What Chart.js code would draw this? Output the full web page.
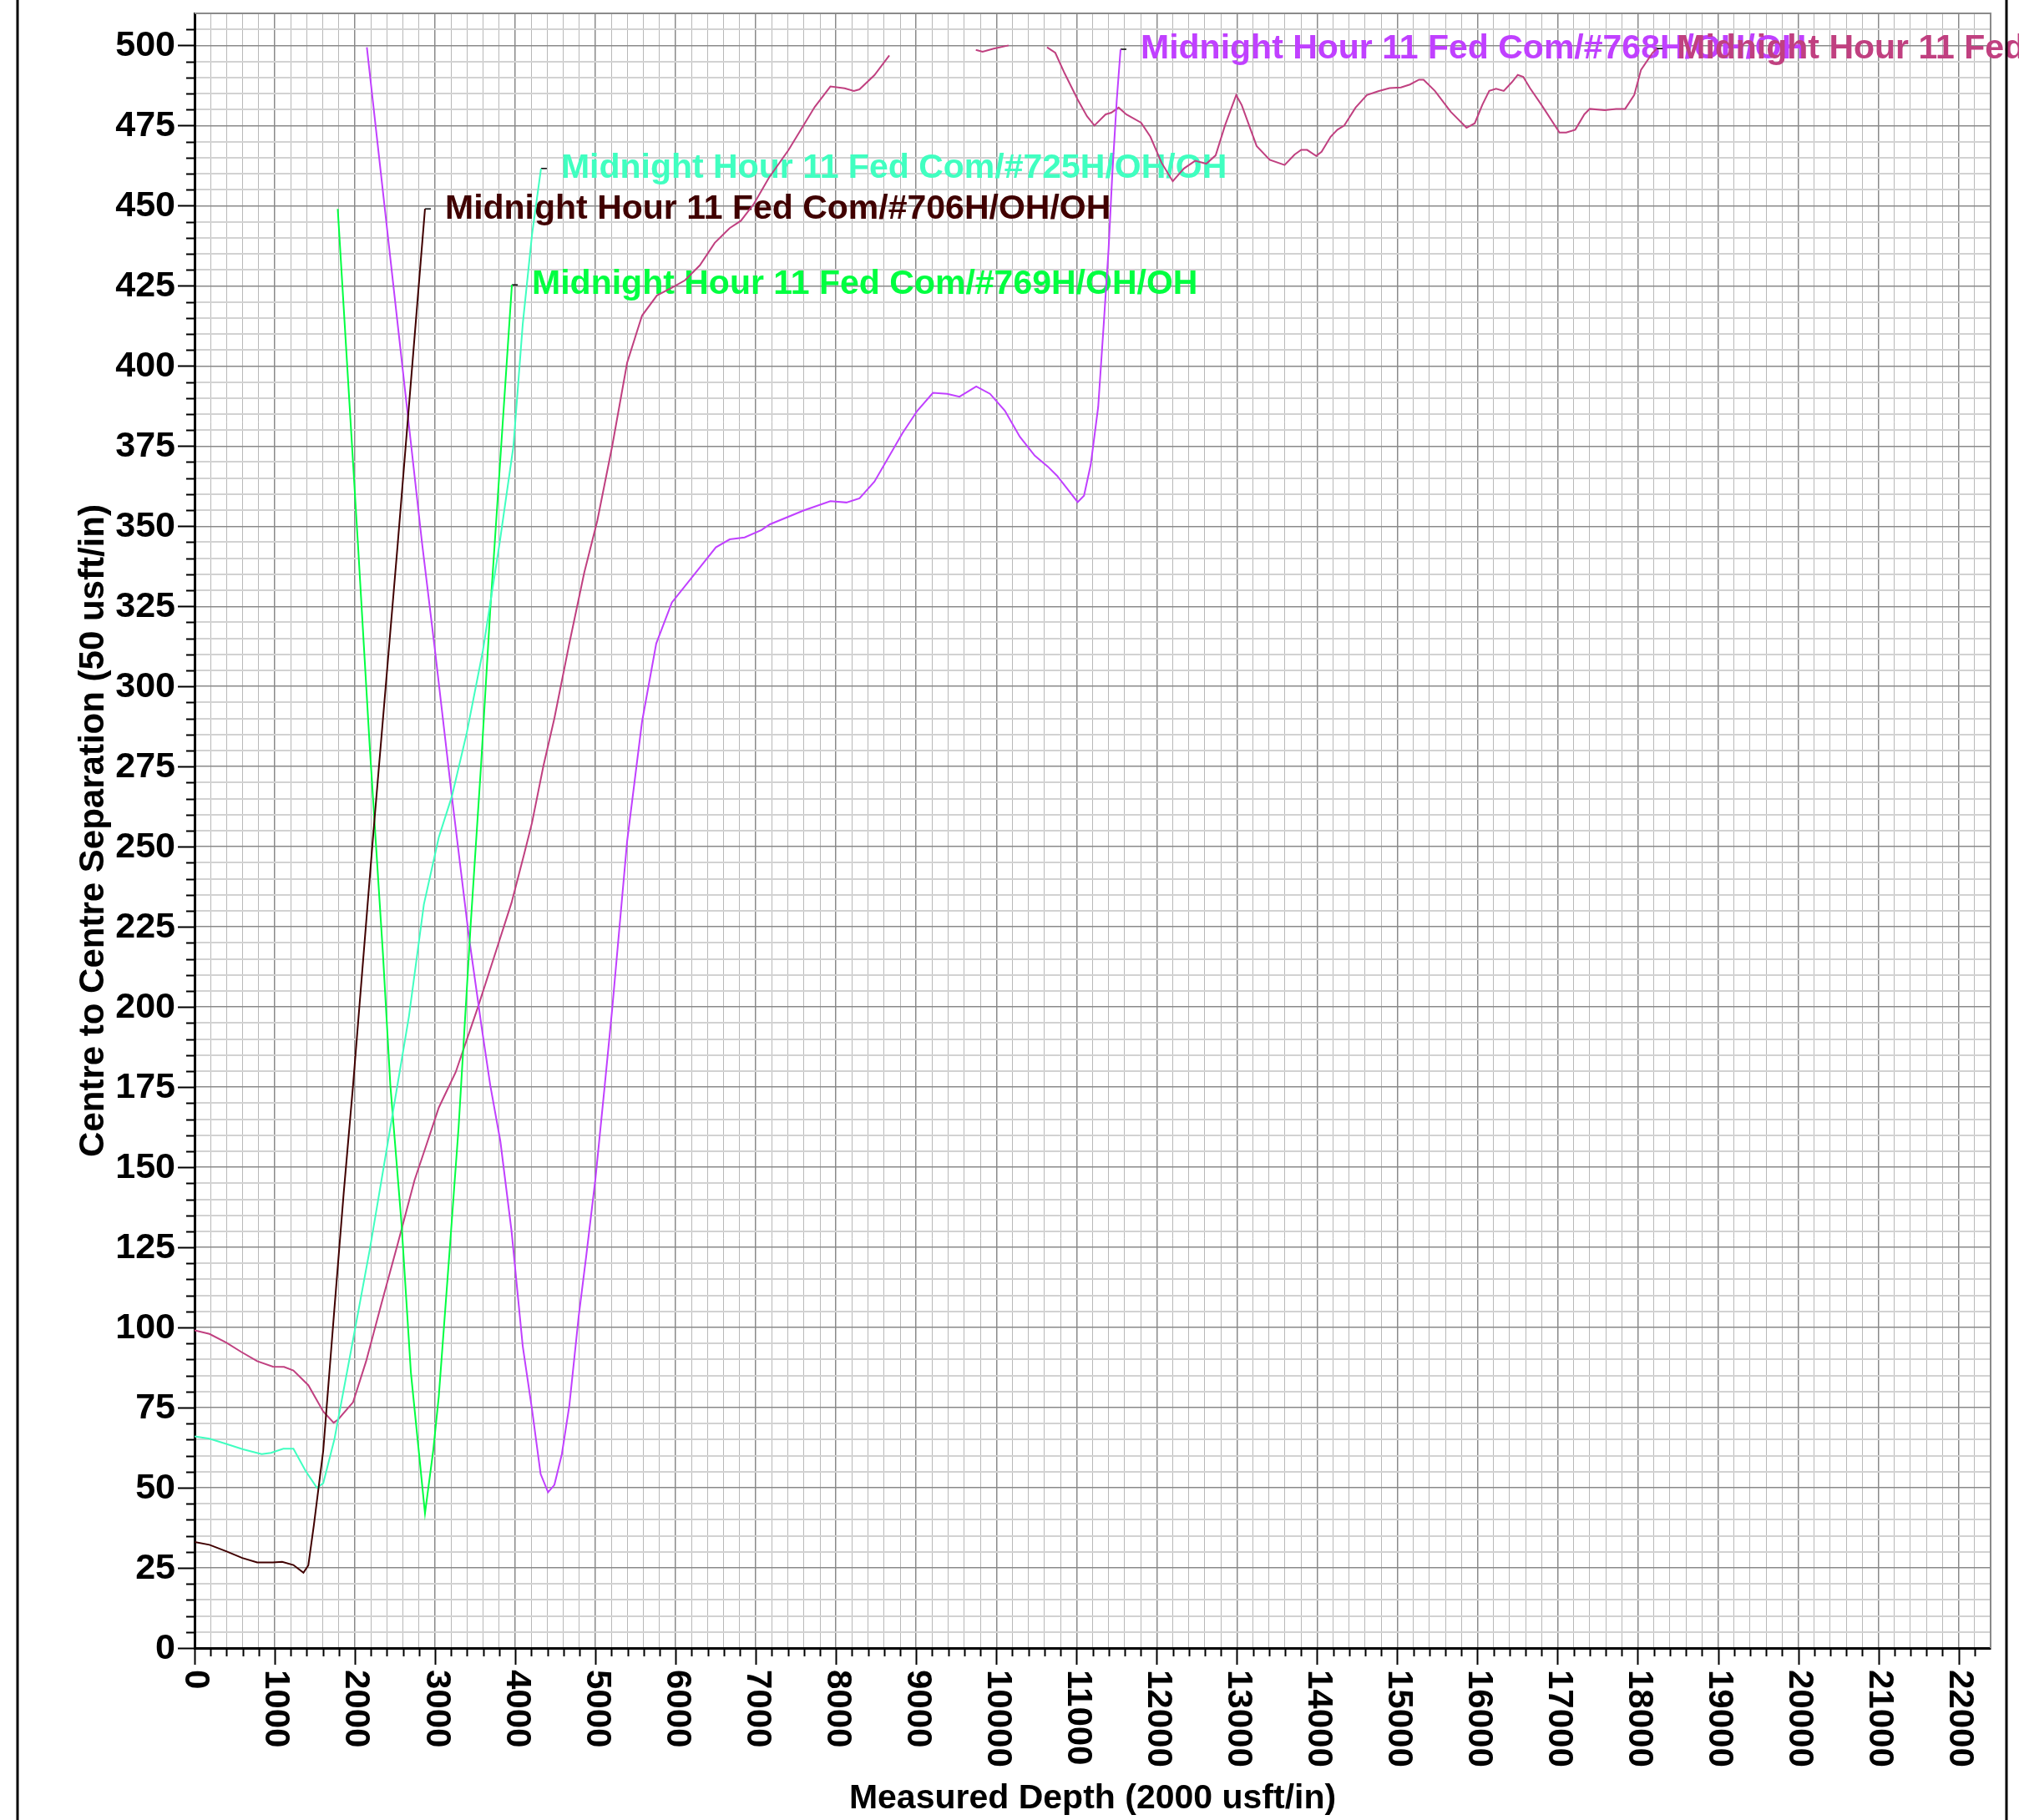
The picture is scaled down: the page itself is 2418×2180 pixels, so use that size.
<!DOCTYPE html>
<html>
<head>
<meta charset="utf-8">
<script src="https://cdn.jsdelivr.net/npm/chart.js@4/dist/chart.umd.min.js"></script>
<style>
  html, body { margin: 0; padding: 0; background: #fff; }
  canvas { display: block; }
</style>
</head>
<body>
<canvas id="sepChart" width="2418" height="2180"></canvas>
<script>
// Series names (label texts)
const seriesNames = [
    'Midnight Hour 11 Fed Com/#706H/OH/OH',
    'Midnight Hour 11 Fed Com/#725H/OH/OH',
    'Midnight Hour 11 Fed Com/#769H/OH/OH',
    'Midnight Hour 11 Fed Com/#768H/OH/OH',
    'Midnight Hour 11 Fed Com'
];
const seriesColors = ['#400000', '#40FFC0', '#00FF40', '#C040FF', '#C04080'];

// Measured depth (usft) / centre to centre separation (usft)
const md706 = [0, 186, 395, 595, 781, 977, 1093, 1233, 1358, 1419, 1488, 1605, 1744, 1860, 1977, 2233, 2535, 2874];
const sep706 = [33.1, 32.2, 30.2, 28.1, 26.7, 26.7, 26.9, 25.9, 23.5, 25.8, 38.3, 61.6, 105.8, 141.9, 175.6, 255.2, 344.8, 449];

const md725 = [0, 186, 395, 605, 837, 953, 1107, 1233, 1386, 1526, 1605, 1744, 1953, 2186, 2442, 2674, 2860, 3046, 3209, 3395, 3595, 3805, 3977, 4093, 4209, 4321];
const sep725 = [66, 65.3, 63.7, 62, 60.5, 60.9, 62.2, 62.2, 55.2, 50, 51.4, 65.1, 93, 124.4, 162.4, 197.1, 232, 252.9, 265.7, 285.5, 311, 344.8, 375, 413, 441, 461.6];

const md769 = [1786, 2037, 2186, 2349, 2442, 2581, 2698, 2791, 2874, 2977, 3046, 3186, 3293, 3442, 3572, 3688, 3744, 3958];
const sep769 = [449, 344.8, 280.8, 216.8, 175.6, 132.5, 86, 62.8, 42, 61.7, 78.5, 125.6, 162.4, 225, 275, 324, 344.8, 425.3];

const md768 = [2149, 2837, 3000, 3209, 3418, 3581, 3688, 3814, 3953, 4093, 4209, 4316, 4409, 4488, 4581, 4674, 4791, 4884, 5000, 5116,
    5209, 5395, 5581, 5758, 5953, 6232, 6502, 6674, 6860, 7070, 7177, 7595, 7930, 8130, 8293, 8479, 8828, 9014, 9209, 9386,
    9540, 9749, 9921, 10107, 10293, 10479, 10642, 10758, 11014, 11093, 11177, 11270, 11340, 11400, 11446, 11502, 11549];
const sep768 = [499.4, 344.8, 311, 265.7, 222.7, 193.6, 175.6, 158.1, 130.2, 94.2, 74.4, 54.3, 48.6, 50.9, 60.5, 75.6, 103.5, 122.1, 146.5, 175.6,
    199.4, 251.7, 289, 313.4, 326.2, 334.9, 343.4, 345.9, 346.5, 348.8, 350.6, 354.9, 357.8, 357.4, 358.7, 363.9, 379, 386, 391.6, 391.3,
    390.4, 393.6, 391.3, 386, 377.9, 372, 368.6, 365.7, 357.5, 359.5, 369.2, 387.2, 413.4, 436.6, 459.9, 483.1, 498.8];

// null = off the top of the scale (line not drawn)
const mdLast = [0, 186, 395, 581, 781, 977, 1116, 1233, 1419, 1605, 1735, 1791, 1977, 2140, 2326, 2535, 2744, 2884, 3046, 3256,
    3535, 3767, 3953, 4116, 4209, 4349, 4488, 4674, 4860, 5023, 5209, 5395, 5581, 5767, 5953, 6116, 6302, 6488, 6674, 6814,
    6977, 7163, 7409, 7735, 7930, 8107, 8223, 8293, 8479, 8665, 9200, 9744, 9828, 9967, 10153, 10400, 10632, 10735, 10851, 11014,
    11130, 11223, 11363, 11432, 11525, 11619, 11805, 11921, 12060, 12200, 12339, 12479, 12618, 12735, 12851, 12991, 13060, 13246, 13409, 13595,
    13718, 13802, 13876, 13989, 14056, 14169, 14254, 14339, 14480, 14621, 14763, 14904, 15045, 15158, 15271, 15328, 15469, 15667, 15864, 15966,
    16062, 16147, 16232, 16328, 16429, 16503, 16571, 16655, 16797, 17023, 17107, 17220, 17333, 17401, 17588, 17729, 17842, 17955, 18040, 18181, 18237];
const sepLast = [99.1, 98, 95.3, 92.4, 89.5, 87.8, 87.7, 86.6, 82, 73.8, 70.3, 71.3, 76.7, 89.5, 107, 126.2, 146, 156.4, 168.6, 179.6,
    200, 218, 232.5, 248.2, 257.5, 275, 290.1, 313.4, 335.5, 351.7, 375, 401, 415.7, 422, 424.4, 426.7, 431.4, 438.4, 443, 445.3,
    450.6, 458.7, 467.4, 480.8, 487.2, 486.6, 485.8, 486.3, 490.7, 496.9, null, 498.6, 498, 499, 500, null, 499.4, 497.7, 491.3, 483.1,
    477.9, 475, 478.5, 479, 480.6, 478.5, 475.9, 471.5, 463.4, 457.6, 461.6, 464, 463.1, 465.7, 475, 484.5, 481.4, 468.6, 464.3, 462.7,
    465.9, 467.4, 467.4, 465.5, 466.8, 471.5, 473.7, 475, 480.6, 484.5, 485.7, 486.7, 486.9, 487.8, 489.3, 489.3, 485.8, 479.3, 474.3, 475.7,
    481.5, 485.8, 486.5, 485.8, 488.5, 490.8, 490.2, 486.7, 481.5, 472.8, 472.8, 473.7, 478.5, 480.2, 479.8, 480.2, 480.2, 484.5, 492.4, 497.6, 499];

// Axis tick labels
const xTickLabels = ['0', '1000', '2000', '3000', '4000', '5000', '6000', '7000', '8000', '9000', '10000', '11000',
    '12000', '13000', '14000', '15000', '16000', '17000', '18000', '19000', '20000', '21000', '22000'];
const yTickLabels = ['0', '25', '50', '75', '100', '125', '150', '175', '200', '225', '250', '275', '300', '325',
    '350', '375', '400', '425', '450', '475', '500'];
const xTitle = 'Measured Depth (2000 usft/in)';
const yTitle = 'Centre to Centre Separation (50 usft/in)';

const FONT = '"Liberation Sans", Arial, sans-serif';

const seriesMd = [md706, md725, md769, md768, mdLast];
const seriesSep = [sep706, sep725, sep769, sep768, sepLast];

const toPoints = (mds, seps) => mds.map((m, i) => ({ x: m, y: seps[i] }));

const datasets = seriesNames.map((name, i) => ({
    label: name,
    data: toPoints(seriesMd[i], seriesSep[i]),
    borderColor: seriesColors[i],
    borderWidth: 2,
    pointRadius: 0,
    tension: 0,
    spanGaps: false,
    fill: false
}));

// Labels at the end of each well, drawn under the lines
const wellLabels = {
    id: 'wellLabels',
    beforeDatasetsDraw(chart) {
        const { ctx, chartArea: a, scales: { x, y } } = chart;
        ctx.save();
        // top and right plot edges
        ctx.strokeStyle = '#8a8a8a';
        ctx.lineWidth = 2;
        ctx.beginPath();
        ctx.moveTo(a.left, a.top);
        ctx.lineTo(a.right, a.top);
        ctx.lineTo(a.right, a.bottom);
        ctx.stroke();

        ctx.font = 'bold 41px ' + FONT;
        ctx.textAlign = 'left';
        ctx.textBaseline = 'middle';
        seriesNames.forEach((name, i) => {
            const mds = seriesMd[i];
            const seps = seriesSep[i];
            const n = mds.length - 1;
            const ex = x.getPixelForValue(mds[n]);
            const ey = y.getPixelForValue(seps[n]);
            ctx.strokeStyle = '#000';
            ctx.lineWidth = 1.5;
            ctx.beginPath();
            ctx.moveTo(ex, ey);
            ctx.lineTo(ex + 7, ey);
            ctx.stroke();
            ctx.fillStyle = seriesColors[i];
            ctx.fillText(name, ex + 24, ey);
        });
        ctx.restore();
    },
    afterDraw(chart) {
        const { ctx, chartArea: a, scales: { x, y } } = chart;
        ctx.save();
        ctx.strokeStyle = '#000';
        ctx.lineWidth = 2;
        ctx.beginPath();
        // x tick marks
        for (let v = 0; v < 22400; v += 200) {
            const px = Math.round(x.getPixelForValue(v)) + 0.5;
            const len = v % 1000 === 0 ? 20 : 10;
            ctx.moveTo(px, a.bottom);
            ctx.lineTo(px, a.bottom + len);
        }
        // y tick marks
        for (let v = 0; v <= 505; v += 5) {
            const py = Math.round(y.getPixelForValue(v)) + 0.5;
            const len = v % 25 === 0 ? 20 : 10;
            ctx.moveTo(a.left, py);
            ctx.lineTo(a.left - len, py);
        }
        ctx.stroke();

        ctx.fillStyle = '#000';
        ctx.font = 'bold 43px ' + FONT;
        // y tick labels
        ctx.textAlign = 'right';
        ctx.textBaseline = 'middle';
        yTickLabels.forEach(t => {
            ctx.fillText(t, a.left - 23, y.getPixelForValue(Number(t)) + 1);
        });
        // x tick labels, turned clockwise
        ctx.font = 'bold 42px ' + FONT;
        ctx.textAlign = 'left';
        xTickLabels.forEach(t => {
            ctx.save();
            ctx.translate(x.getPixelForValue(Number(t)) + 1, a.bottom + 26);
            ctx.rotate(Math.PI / 2);
            ctx.fillText(t, 0, 0);
            ctx.restore();
        });

        // axis titles
        ctx.font = 'bold 41px ' + FONT;
        ctx.textAlign = 'center';
        ctx.fillText(xTitle, (a.left + a.right) / 2, 2155);
        ctx.font = 'bold 42px ' + FONT;
        ctx.save();
        ctx.translate(112, (a.top + a.bottom) / 2);
        ctx.rotate(-Math.PI / 2);
        ctx.fillText(yTitle, 0, 0);
        ctx.restore();

        // page frame
        ctx.lineWidth = 3;
        ctx.beginPath();
        ctx.moveTo(21, 0); ctx.lineTo(21, chart.height);
        ctx.moveTo(2403, 0); ctx.lineTo(2403, chart.height);
        ctx.stroke();
        ctx.restore();
    }
};

new Chart(document.getElementById('sepChart'), {
    type: 'line',
    data: { datasets },
    options: {
        responsive: false,
        animation: false,
        devicePixelRatio: 1,
        layout: { padding: { left: 233, right: 34, top: 16, bottom: 206 } },
        plugins: {
            legend: { display: false },
            tooltip: { enabled: false }
        },
        scales: {
            x: {
                type: 'linear',
                min: 0,
                max: 22400,
                ticks: { display: false, stepSize: 200 },
                grid: {
                    drawTicks: false,
                    color: c => c.tick && c.tick.value % 1000 === 0 ? '#8a8a8a' : '#b8b8b8',
                    lineWidth: c => c.tick && c.tick.value % 1000 === 0 ? 1.5 : 1
                },
                border: { color: '#000', width: 3 }
            },
            y: {
                type: 'linear',
                min: 0,
                max: 510,
                ticks: { display: false, stepSize: 5 },
                grid: {
                    drawTicks: false,
                    color: c => c.tick && c.tick.value % 25 === 0 ? '#8a8a8a' : '#d2d2d2',
                    lineWidth: c => c.tick && c.tick.value % 25 === 0 ? 1.5 : 2
                },
                border: { color: '#000', width: 3 }
            }
        }
    },
    plugins: [wellLabels]
});
</script>
</body>
</html>
